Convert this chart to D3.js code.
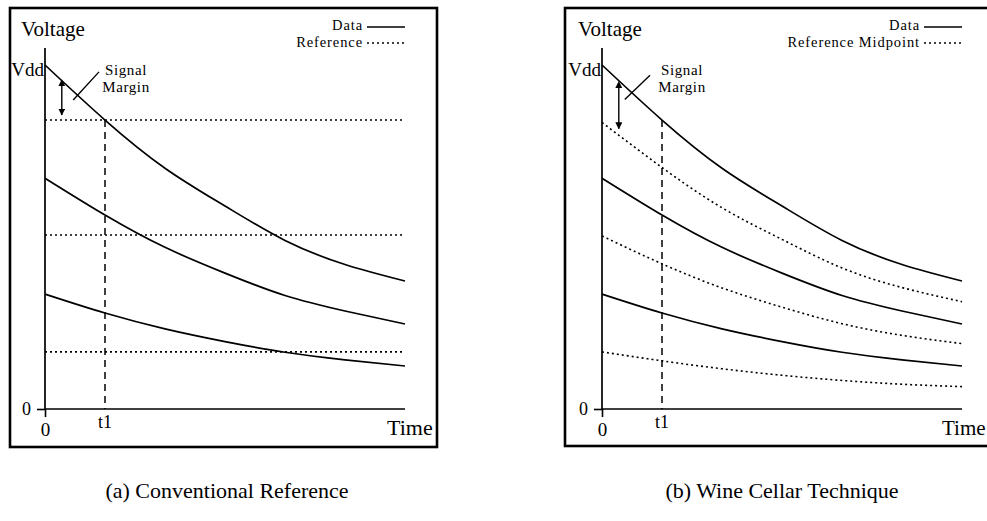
<!DOCTYPE html>
<html>
<head>
<meta charset="utf-8">
<script src="https://cdn.jsdelivr.net/npm/d3@7/dist/d3.min.js"></script>
<style>
  html, body { margin: 0; padding: 0; background: #fff; }
  svg { display: block; font-family: "Liberation Serif", "DejaVu Serif", serif; }
  text { fill: #000; }
</style>
</head>
<body>
<svg id="chart" width="987" height="521"></svg>
<script>
// Time samples (t1 = 1) and voltages normalised to Vdd = 1
const timePoints = [0, 1, 2, 3, 4, 5, 6];
const t1 = 1;

// Stored cell voltages decaying over time
const dataHigh = [1.0, 0.84, 0.70, 0.59, 0.49, 0.42, 0.372];
const dataMid  = [0.671, 0.564, 0.47, 0.395, 0.33, 0.285, 0.247];
const dataLow  = [0.334, 0.279, 0.233, 0.196, 0.165, 0.143, 0.125];

// (a) fixed reference levels
const refLevels = [0.84, 0.506, 0.166];

// (b) reference midpoints that track the decay
const midHigh = [0.833, 0.702, 0.585, 0.493, 0.41, 0.353, 0.312];
const midMid  = [0.503, 0.422, 0.352, 0.296, 0.248, 0.214, 0.19];
const midLow  = [0.166, 0.14, 0.117, 0.098, 0.083, 0.072, 0.065];

const captions = ["(a) Conventional Reference", "(b) Wine Cellar Technique"];
const legendLabels = [["Data", "Reference"], ["Data", "Reference Midpoint"]];

const svg = d3.select("#chart");

const panels = [
  { x0: 45,  frame: [10, 8, 427, 439], caption: captions[0], legend: legendLabels[0],
    refMode: "flat", margin: { t: 0.28, top: 0.94, bottom: 0.855 },
    leader: [[0.47, 0.898], [0.9, 0.98]], signalX: 126, timeX: 387, timeSize: 22 },
  { x0: 602, frame: [565, 8, 440, 438], caption: captions[1], legend: legendLabels[1],
    refMode: "track", margin: { t: 0.28, top: 0.935, bottom: 0.815 },
    leader: [[0.38, 0.9], [0.8, 0.97]], signalX: 682, timeX: 942, timeSize: 21 }
];

const defs = svg.append("defs");
["start", "end"].forEach(kind => {
  defs.append("marker")
    .attr("id", "arrow-" + kind)
    .attr("viewBox", "0 0 10 10")
    .attr("refX", kind === "end" ? 9 : 1).attr("refY", 5)
    .attr("markerWidth", 7).attr("markerHeight", 7)
    .attr("markerUnits", "userSpaceOnUse")
    .attr("orient", "auto-start-reverse")
    .append("path").attr("d", "M0,0 L10,5 L0,10 Z").attr("fill", "#000");
});

panels.forEach(p => {
  const g = svg.append("g");
  const x = d3.scaleLinear().domain([0, 6]).range([p.x0, p.x0 + 360]);
  const y = d3.scaleLinear().domain([0, 1]).range([409, 65]);
  const yTop = y.invert(48);

  // frame
  g.append("rect")
    .attr("x", p.frame[0]).attr("y", p.frame[1])
    .attr("width", p.frame[2]).attr("height", p.frame[3])
    .attr("fill", "none").attr("stroke", "#000").attr("stroke-width", 2.6);

  const line = d3.line()
    .x((d, i) => x(timePoints[i]))
    .y(d => y(d))
    .curve(d3.curveNatural);

  // reference lines
  if (p.refMode === "flat") {
    g.selectAll(".ref").data(refLevels).join("line")
      .attr("x1", x(0)).attr("x2", x(6))
      .attr("y1", d => y(d)).attr("y2", d => y(d))
      .attr("stroke", "#000").attr("stroke-width", 1.6)
      .attr("stroke-dasharray", "2,3");
  } else {
    g.selectAll(".ref").data([midHigh, midMid, midLow]).join("path")
      .attr("d", line)
      .attr("fill", "none").attr("stroke", "#000").attr("stroke-width", 1.6)
      .attr("stroke-dasharray", "2,3");
  }

  // data curves
  g.selectAll(".data").data([dataHigh, dataMid, dataLow]).join("path")
    .attr("d", line)
    .attr("fill", "none").attr("stroke", "#000").attr("stroke-width", 1.7);

  // t1 marker
  g.append("line")
    .attr("x1", x(t1)).attr("x2", x(t1))
    .attr("y1", y(dataHigh[timePoints.indexOf(t1)])).attr("y2", y(0))
    .attr("stroke", "#000").attr("stroke-width", 1.5)
    .attr("stroke-dasharray", "7,5");

  // axes
  const yAxis = d3.axisLeft(y).tickValues([0]).tickSize(8).tickPadding(6).tickFormat(d3.format("d"));
  const yAxisG = g.append("g").attr("transform", `translate(${x(0)},0)`).call(yAxis);
  yAxisG.select(".domain").remove();
  g.append("line")
    .attr("x1", x(0)).attr("x2", x(0)).attr("y1", y(yTop)).attr("y2", y(0) + 1)
    .attr("stroke", "#000").attr("stroke-width", 1.7);

  const xAxis = d3.axisBottom(x).tickValues([0]).tickSize(8).tickPadding(6).tickFormat(d3.format("d"));
  const xAxisG = g.append("g").attr("transform", `translate(0,${y(0)})`).call(xAxis);
  xAxisG.select(".domain").remove();
  g.append("line")
    .attr("x1", x(0)).attr("x2", x(6)).attr("y1", y(0)).attr("y2", y(0))
    .attr("stroke", "#000").attr("stroke-width", 1.7);

  [yAxisG, xAxisG].forEach(a => {
    a.selectAll(".tick line").attr("stroke", "#000").attr("stroke-width", 1.6);
    a.selectAll(".tick text").attr("font-family", "Liberation Serif, serif").attr("fill", "#000");
  });
  yAxisG.selectAll(".tick text").attr("font-size", 18);
  xAxisG.selectAll(".tick text").attr("font-size", 19);

  g.append("text").attr("x", x(t1)).attr("y", 428)
    .attr("text-anchor", "middle").attr("font-size", 18).text("t1");

  g.append("text").attr("x", x(0) - 1).attr("y", y(1) + 11)
    .attr("text-anchor", "end").attr("font-size", 19).text("Vdd");

  g.append("text").attr("x", x(0) - 24).attr("y", 36)
    .attr("font-size", 21).text("Voltage");

  g.append("text").attr("x", p.timeX).attr("y", 435)
    .attr("font-size", p.timeSize).text("Time");

  // signal margin annotation
  g.append("line")
    .attr("x1", x(p.margin.t)).attr("x2", x(p.margin.t))
    .attr("y1", y(p.margin.top)).attr("y2", y(p.margin.bottom))
    .attr("stroke", "#000").attr("stroke-width", 1.4)
    .attr("marker-start", "url(#arrow-start)")
    .attr("marker-end", "url(#arrow-end)");
  g.append("line")
    .attr("x1", x(p.leader[0][0])).attr("y1", y(p.leader[0][1]))
    .attr("x2", x(p.leader[1][0])).attr("y2", y(p.leader[1][1]))
    .attr("stroke", "#000").attr("stroke-width", 1.4);
  g.append("text").attr("x", p.signalX).attr("y", 75)
    .attr("text-anchor", "middle").attr("font-size", 15)
    .attr("letter-spacing", 0.6).text("Signal");
  g.append("text").attr("x", p.signalX).attr("y", 92)
    .attr("text-anchor", "middle").attr("font-size", 15)
    .attr("letter-spacing", 0.6).text("Margin");

  // legend
  const lx = x(6) - 38;
  g.append("text").attr("x", lx - 4).attr("y", 30)
    .attr("text-anchor", "end").attr("font-size", 14.5)
    .attr("letter-spacing", 0.9).text(p.legend[0]);
  g.append("line").attr("x1", lx).attr("x2", x(6)).attr("y1", 27).attr("y2", 27)
    .attr("stroke", "#000").attr("stroke-width", 1.5);
  g.append("text").attr("x", lx - 4).attr("y", 47)
    .attr("text-anchor", "end").attr("font-size", 14.5)
    .attr("letter-spacing", 0.9).text(p.legend[1]);
  g.append("line").attr("x1", lx).attr("x2", x(6)).attr("y1", 43).attr("y2", 43)
    .attr("stroke", "#000").attr("stroke-width", 1.5)
    .attr("stroke-dasharray", "2,3");

  // caption
  svg.append("text").attr("x", p.frame[0] + 217).attr("y", 498)
    .attr("text-anchor", "middle").attr("font-size", 22).text(p.caption);
});
</script>
</body>
</html>
